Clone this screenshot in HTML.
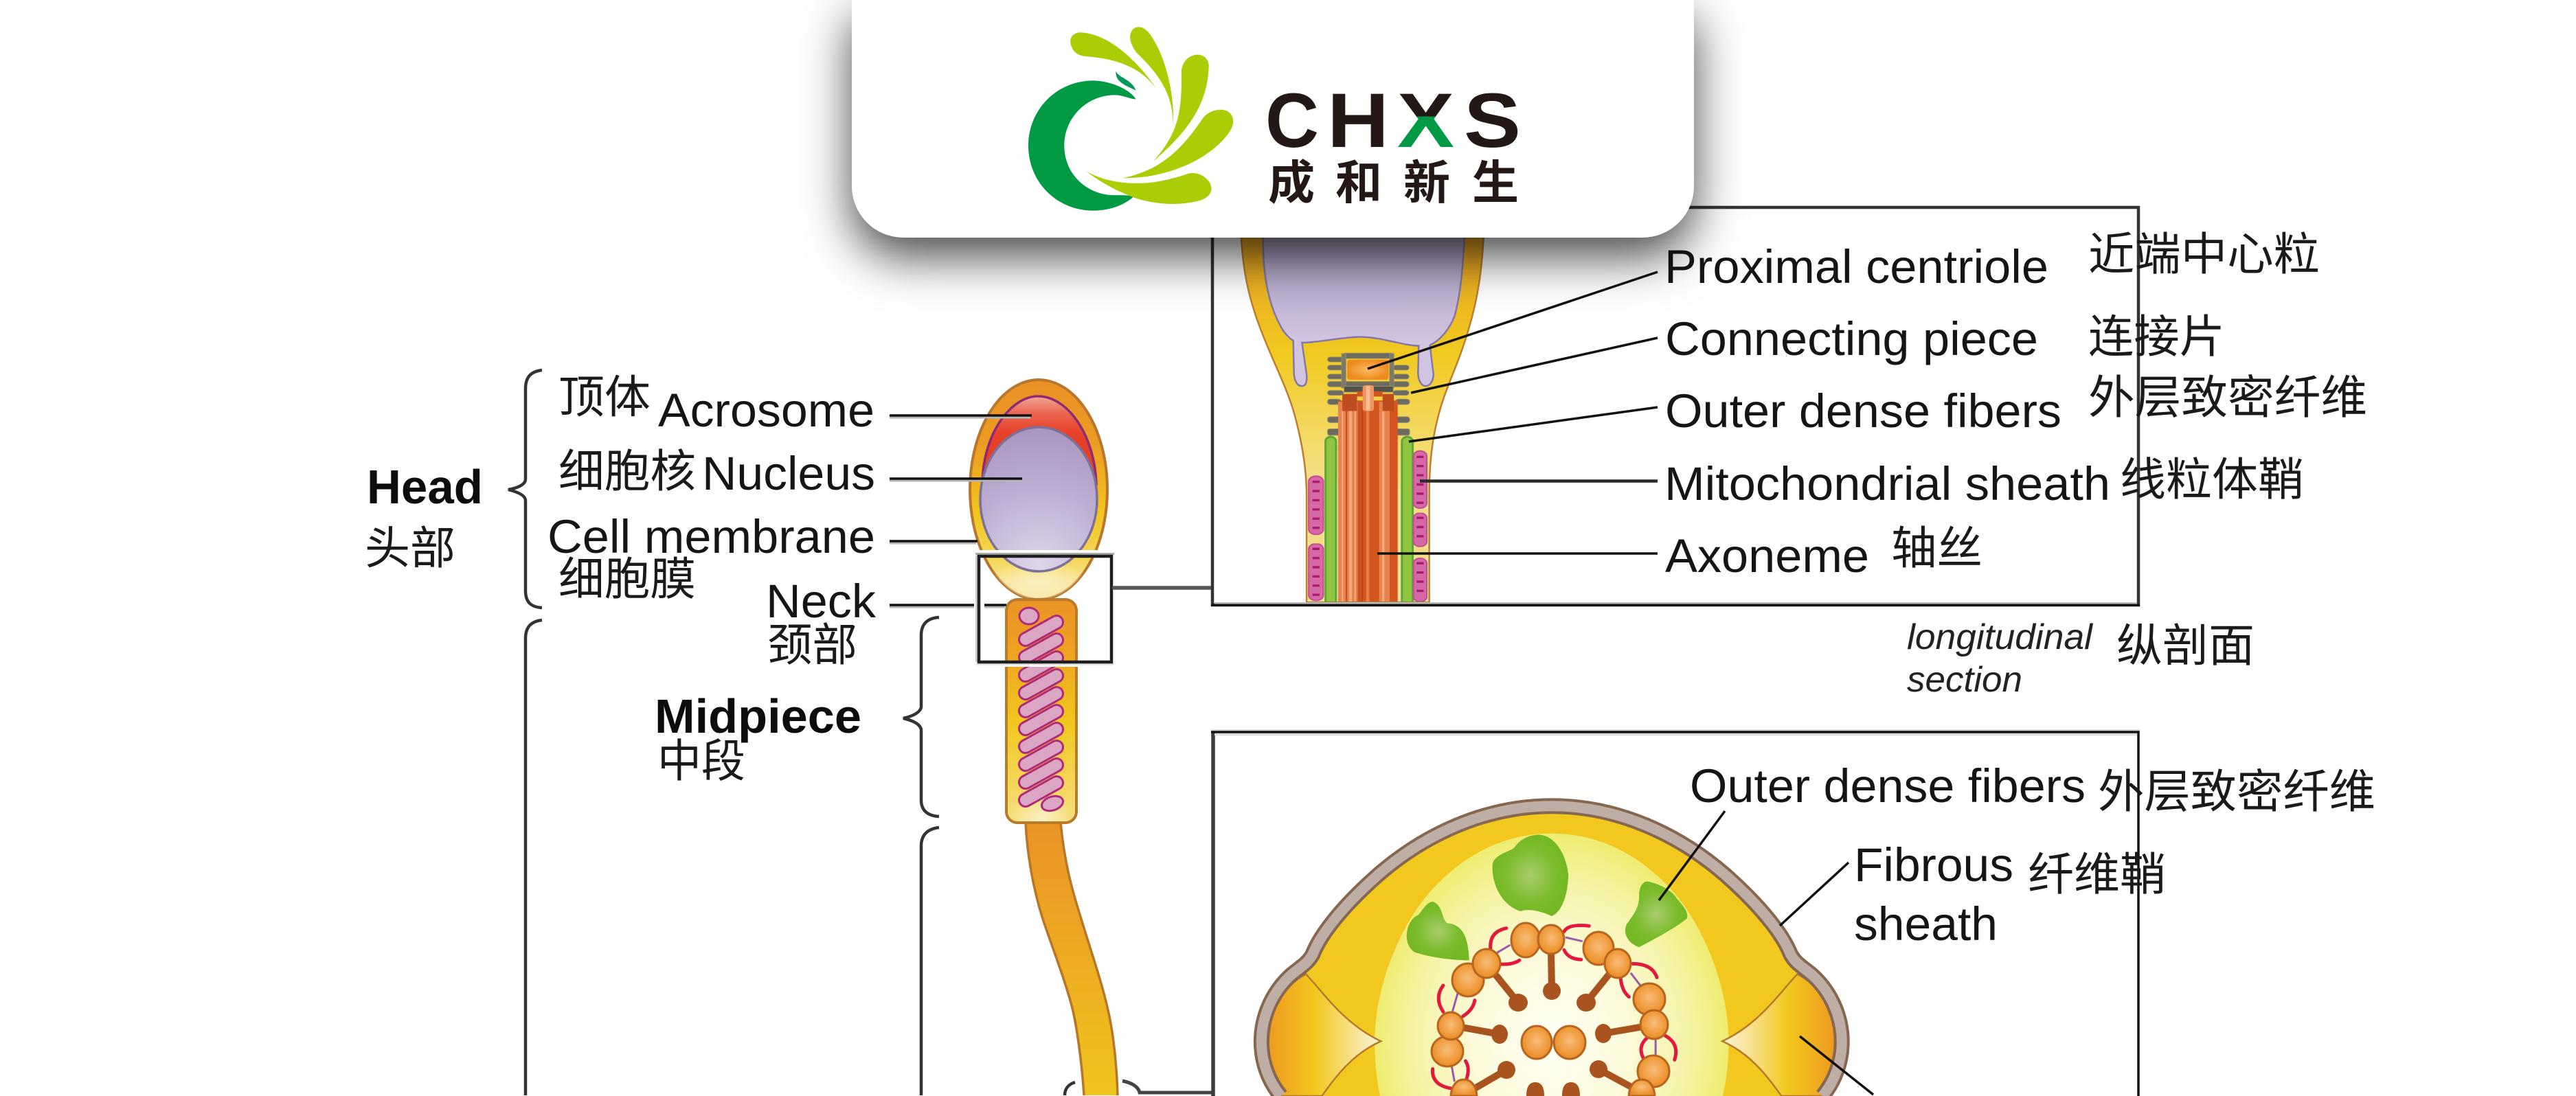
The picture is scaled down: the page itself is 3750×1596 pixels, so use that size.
<!DOCTYPE html>
<html lang="zh">
<head>
<meta charset="utf-8">
<title>CHXS sperm structure</title>
<style>
html,body{margin:0;padding:0;background:#fff;width:3750px;height:1596px;overflow:hidden}
svg{position:absolute;left:0;top:0;display:block}
.e{font-family:"Liberation Sans",sans-serif;fill:#151515}
.b{font-family:"Liberation Sans",sans-serif;font-weight:700;fill:#0c0c0c}
.i{font-family:"Liberation Sans",sans-serif;font-style:italic;fill:#222}
.c{font-family:"Liberation Sans","Noto Sans CJK SC",sans-serif;fill:#1a1a1a}
.card{position:absolute;left:1240px;top:0;width:1226px;height:346px;background:#fff;border-radius:0 0 75px 75px;box-shadow:0 28px 70px rgba(0,0,0,.72)}
.ns{vector-effect:non-scaling-stroke}
</style>
</head>
<body>
<svg width="3750" height="1596" viewBox="0 0 3750 1596" xmlns="http://www.w3.org/2000/svg">
<defs>
<linearGradient id="headG" gradientUnits="userSpaceOnUse" x1="0" y1="553" x2="0" y2="873"><stop offset="0" stop-color="#ea9025"/><stop offset=".3" stop-color="#ec9c22"/><stop offset=".6" stop-color="#f0c41b"/><stop offset=".82" stop-color="#f4d85a"/><stop offset="1" stop-color="#f8e9ad"/></linearGradient>
<radialGradient id="nucG" gradientUnits="userSpaceOnUse" cx="1512" cy="825" r="210"><stop offset="0" stop-color="#ded6ea"/><stop offset=".55" stop-color="#bcadd2"/><stop offset="1" stop-color="#a894bc"/></radialGradient>
<linearGradient id="acrG" gradientUnits="userSpaceOnUse" x1="0" y1="580" x2="0" y2="650"><stop offset="0" stop-color="#f2a090"/><stop offset=".3" stop-color="#ea6650"/><stop offset=".7" stop-color="#e8432c"/><stop offset="1" stop-color="#e63e28"/></linearGradient>
<linearGradient id="midG" gradientUnits="userSpaceOnUse" x1="0" y1="873" x2="0" y2="1198"><stop offset="0" stop-color="#ea9325"/><stop offset=".2" stop-color="#ee9f22"/><stop offset=".55" stop-color="#f1c71d"/><stop offset="1" stop-color="#f6df80"/></linearGradient>
<radialGradient id="midL" gradientUnits="userSpaceOnUse" cx="1516" cy="1195" r="45"><stop offset="0" stop-color="#fbf1c6"/><stop offset="1" stop-color="#fbf1c6" stop-opacity="0"/></radialGradient>
<radialGradient id="headL"><stop offset="0" stop-color="#fbf0c2"/><stop offset="1" stop-color="#fbf0c2" stop-opacity="0"/></radialGradient>
<linearGradient id="tailG" gradientUnits="userSpaceOnUse" x1="0" y1="1198" x2="0" y2="1596"><stop offset="0" stop-color="#ea9325"/><stop offset="1" stop-color="#efc41d"/></linearGradient>
<linearGradient id="neckG" gradientUnits="userSpaceOnUse" x1="0" y1="120" x2="0" y2="1100"><stop offset="0" stop-color="#e8a224"/><stop offset=".45" stop-color="#f1c91f"/><stop offset=".8" stop-color="#f4db6a"/><stop offset="1" stop-color="#f6e298"/></linearGradient>
<linearGradient id="lnucG" gradientUnits="userSpaceOnUse" x1="0" y1="120" x2="0" y2="520"><stop offset="0" stop-color="#a99dc0"/><stop offset="1" stop-color="#d0c4e0"/></linearGradient>
<radialGradient id="centG"><stop offset="0" stop-color="#fbbc62"/><stop offset="1" stop-color="#ee8a20"/></radialGradient>
<radialGradient id="ovalG" gradientUnits="userSpaceOnUse" cx="0" cy="0" r="1" gradientTransform="translate(790 1340) scale(425 870)"><stop offset="0" stop-color="#fffff6"/><stop offset=".45" stop-color="#fcfad8"/><stop offset=".78" stop-color="#f5f3a4"/><stop offset="1" stop-color="#efec70"/></radialGradient>
<linearGradient id="pockG" x1="0" y1="0" x2="1" y2="0"><stop offset="0" stop-color="#ee9a20"/><stop offset=".42" stop-color="#f2c81e"/><stop offset=".82" stop-color="#f8e7a6"/><stop offset="1" stop-color="#fdf5da"/></linearGradient>
<radialGradient id="greenG"><stop offset="0" stop-color="#a8cc6c"/><stop offset=".7" stop-color="#7abb2a"/><stop offset="1" stop-color="#74b824"/></radialGradient>
<radialGradient id="doubG" cx=".5" cy=".45" r=".55"><stop offset="0" stop-color="#f8bd7a"/><stop offset=".8" stop-color="#ee9532"/><stop offset="1" stop-color="#e58a28"/></radialGradient>
<clipPath id="headClip"><ellipse cx="1512" cy="713" rx="100" ry="160"/></clipPath>
</defs>
<rect width="3750" height="1596" fill="#fff"/>

<!-- Brackets -->
<g fill="none" stroke="#333" stroke-width="4.5">
<path d="M789,539 C772,541 765,550 765,566 L765,698 C765,706 752,711 740,713 C752,716 765,721 765,729 L765,860 C765,876 772,884 789,885"/>
<path d="M789,903 C772,905 765,914 765,930 L765,1595"/>
<path d="M1367,899 C1350,900 1341,909 1341,925 L1341,1030 C1339,1038 1328,1043 1315,1046 C1328,1049 1339,1054 1341,1062 L1341,1165 C1341,1180 1350,1188 1367,1189"/>
<path d="M1367,1205 C1350,1207 1341,1216 1341,1232 L1341,1595"/>
<path d="M1565,1576 C1555,1579 1550,1586 1550,1595"/>
<path d="M1634,1574 C1648,1577 1657,1582 1659,1591 L1766,1591" stroke="#444" stroke-width="5"/>
</g>

<!-- Tail -->
<path d="M1493,1198 C1495,1240 1503,1290 1517,1335 C1530,1375 1548,1420 1560,1464 C1568,1495 1575,1550 1578,1595 L1627,1595 C1626,1560 1622,1510 1613,1471 C1604,1430 1588,1385 1573,1335 C1562,1300 1550,1260 1544,1198 Z" fill="url(#tailG)"/>
<path d="M1493,1198 C1495,1240 1503,1290 1517,1335 C1530,1375 1548,1420 1560,1464 C1568,1495 1575,1550 1578,1595" fill="none" stroke="#b5772a" stroke-width="3.5"/>
<path d="M1627,1595 C1626,1560 1622,1510 1613,1471 C1604,1430 1588,1385 1573,1335 C1562,1300 1550,1260 1544,1198" fill="none" stroke="#b5772a" stroke-width="3.5"/>

<!-- Head -->
<ellipse cx="1512" cy="713" rx="100" ry="160" fill="url(#headG)" stroke="#b8772c" stroke-width="4"/>
<ellipse cx="1512" cy="848" rx="85" ry="32" fill="url(#headL)" clip-path="url(#headClip)"/>
<path d="M1430,705 C1430,635 1470,577 1511,577 C1555,577 1594,635 1596,705 Z" fill="url(#acrG)" stroke="#8f2b74" stroke-width="3.5"/>
<ellipse cx="1512" cy="727" rx="85" ry="105" fill="url(#nucG)" stroke="#7d7198" stroke-width="3.5"/>

<!-- Midpiece -->
<rect x="1465" y="873" width="102" height="325" rx="16" fill="url(#midG)" stroke="#b97a2a" stroke-width="4"/>
<rect x="1467" y="1150" width="98" height="46" rx="14" fill="url(#midL)"/>
<g fill="none" stroke-linecap="round">
<path stroke="#b02a78" stroke-width="22" d="M1493,931L1538,906M1493,957L1538,932M1493,983L1538,958M1493,1009L1538,984M1493,1035L1538,1010M1493,1061L1538,1036M1493,1087L1538,1062M1493,1113L1538,1088M1493,1139L1538,1114M1493,1165L1538,1140"/>
<path stroke="#dba5c4" stroke-width="16" d="M1493,931L1538,906M1493,957L1538,932M1493,983L1538,958M1493,1009L1538,984M1493,1035L1538,1010M1493,1061L1538,1036M1493,1087L1538,1062M1493,1113L1538,1088M1493,1139L1538,1114M1493,1165L1538,1140"/>
</g>
<ellipse cx="1498" cy="897" rx="14" ry="12" fill="#dba5c4" stroke="#b02a78" stroke-width="3"/>
<ellipse cx="1532" cy="1170" rx="16" ry="10" fill="#dba5c4" stroke="#b02a78" stroke-width="3" transform="rotate(-18 1532 1170)"/>

<!-- Halo around the neck box -->
<rect x="1425" y="801" width="172" height="5" fill="#fff"/>
<rect x="1462" y="966" width="108" height="5" fill="#fff"/>
<rect x="1420" y="805" width="202" height="3" fill="#aaa"/>
<rect x="1421" y="966" width="200" height="2.5" fill="#ddd"/>
<rect x="1420" y="809" width="3" height="155" fill="#ccc"/>
<rect x="1425" y="810" width="193" height="154" fill="none" stroke="#1e1e1e" stroke-width="4.5"/>
<line x1="1619" y1="856" x2="1766" y2="856" stroke="#555" stroke-width="5.5"/>

<!-- Box 1 -->
<rect x="1765" y="302" width="1348" height="579" fill="#fff" stroke="#333" stroke-width="4.5"/>

<!-- Longitudinal section -->
<g transform="translate(1750 300) scale(.5102 .3827)">
<path class="ns" d="M110,60 L112,130 C118,260 135,360 170,480 C205,600 245,700 265,800 C285,900 298,1000 298,1100 L298,1515 L648,1515 L648,1100 C648,1000 655,900 670,820 C690,700 730,610 760,470 C785,360 800,250 805,60 Z" fill="url(#neckG)" stroke="#bc7f30" stroke-width="2.5"/>
<path class="ns" d="M172,60 L175,200 C180,300 195,390 225,460 C235,485 250,505 260,512 L262,640 C265,675 275,685 285,685 C297,685 300,665 298,640 L285,520 C330,520 400,498 450,498 C510,498 570,530 618,532 L616,640 C618,670 628,685 638,685 C650,685 660,665 660,640 L650,530 C680,510 705,470 720,420 C735,350 745,250 750,60 Z" fill="url(#lnucG)" stroke="#8478a8" stroke-width="2.5"/>
<g fill="#6d6b60" stroke="#8f8a6e" stroke-width="1">
<rect class="ns" x="400" y="560" width="147" height="20" rx="8"/>
<rect class="ns" x="358" y="575" width="45" height="18" rx="8"/>
<rect class="ns" x="358" y="606" width="45" height="18" rx="8"/><rect class="ns" x="545" y="606" width="45" height="18" rx="8"/>
<rect class="ns" x="358" y="640" width="45" height="18" rx="8"/><rect class="ns" x="545" y="640" width="45" height="18" rx="8"/>
<rect class="ns" x="358" y="668" width="232" height="20" rx="8"/>
<rect class="ns" x="358" y="702" width="45" height="18" rx="8"/><rect class="ns" x="545" y="702" width="45" height="18" rx="8"/>
<rect class="ns" x="358" y="735" width="38" height="20" rx="8"/><rect class="ns" x="552" y="735" width="40" height="20" rx="8"/>
<rect class="ns" x="358" y="802" width="38" height="22" rx="8"/><rect class="ns" x="552" y="802" width="40" height="22" rx="8"/>
<rect class="ns" x="358" y="848" width="38" height="24" rx="6"/><rect class="ns" x="552" y="848" width="40" height="24" rx="6"/>
<rect class="ns" x="398" y="562" width="12" height="130" fill="#7a7866"/><rect class="ns" x="535" y="562" width="12" height="130" fill="#7a7866"/>
<rect class="ns" x="405" y="686" width="140" height="22" fill="#55534a"/>
</g>
<rect x="414" y="585" width="118" height="76" rx="8" fill="url(#centG)"/>
<rect x="388" y="740" width="170" height="775" fill="#d4561f"/>
<rect x="388" y="745" width="24" height="770" fill="#e88350"/>
<rect x="412" y="745" width="32" height="770" fill="#e67c46"/>
<rect x="505" y="745" width="30" height="770" fill="#e88350"/>
<rect x="398" y="780" width="5" height="735" fill="#f4a678"/>
<rect x="419" y="780" width="9" height="735" fill="#f4a678"/>
<rect x="434" y="780" width="5" height="735" fill="#f4a678"/>
<rect x="513" y="780" width="7" height="735" fill="#f4a678"/>
<rect x="468" y="780" width="9" height="735" fill="#e67c46"/>
<rect x="410" y="745" width="3" height="770" fill="#b8431a"/>
<rect x="456" y="745" width="3" height="770" fill="#b8431a"/>
<rect x="444" y="745" width="12" height="770" fill="#cc5120"/>
<rect x="400" y="715" width="42" height="65" fill="#bf4c1f"/>
<rect x="515" y="715" width="32" height="65" fill="#bf4c1f"/>
<rect x="442" y="705" width="73" height="20" fill="#cf5420"/>
<rect x="458" y="682" width="32" height="98" rx="8" fill="#ef9560"/>
<rect x="468" y="686" width="11" height="92" fill="#f7bd94"/>
<g fill="#90c63f" stroke="#5ba83a" stroke-width="3">
<path class="ns" d="M352,1515 L352,895 C352,885 360,878 366,878 C374,878 382,885 382,895 L382,1515 Z"/>
<path class="ns" d="M570,1515 L570,895 C570,885 578,878 585,878 C592,878 601,885 601,895 L601,1515 Z"/>
</g>
<g fill="#d768a6" stroke="#c34d90" stroke-width="2">
<rect class="ns" x="304" y="1028" width="42" height="222" rx="20"/>
<rect class="ns" x="304" y="1285" width="42" height="216" rx="20"/>
<rect class="ns" x="603" y="932" width="38" height="218" rx="19"/>
<rect class="ns" x="603" y="1168" width="38" height="128" rx="19"/>
<rect class="ns" x="603" y="1340" width="38" height="166" rx="19"/>
</g>
<g stroke="#a81c6e" stroke-width="20" fill="none" stroke-dasharray="9 26">
<line x1="325" y1="1045" x2="325" y2="1240"/><line x1="325" y1="1300" x2="325" y2="1490"/>
<line x1="622" y1="950" x2="622" y2="1140"/><line x1="622" y1="1182" x2="622" y2="1285"/><line x1="622" y1="1355" x2="622" y2="1495"/>
</g>
<g fill="#f2dc84"><rect x="305" y="1252" width="40" height="32"/><rect x="604" y="1152" width="38" height="15"/><rect x="604" y="1298" width="38" height="40"/></g>
<rect x="298" y="1505" width="352" height="12" fill="#a5823c"/>
</g>
<rect x="1768" y="877" width="1343" height="3" fill="#bbb"/>
<rect x="1763" y="879.500" width="1352" height="3.500" fill="#111"/>

<!-- Box 2 -->
<rect x="1763" y="1062" width="1352" height="10" fill="#d8d8d8"/>
<rect x="1766" y="1066" width="1347" height="530" fill="#fff"/>
<path d="M1766,1596 L1766,1066" fill="none" stroke="#3c3c3c" stroke-width="5.5"/>
<path d="M1763,1066 L3113,1066 L3113,1596" fill="none" stroke="#111" stroke-width="3.500"/>
<rect x="1768" y="1068" width="1343" height="3" fill="#ddd"/>

<!-- Cross section -->
<g transform="translate(1780 1050) scale(.60606 .34843)">
<path fill="#f2c81e" d="M139.5,1567 C108.8,1502.6 93,1421.9 93,1340 C93,1235 119,1132 165,1060 C190,1025 205,1010 216,975 C235,890 290,770 375,640 C485,475 630,355 790,355 C950,355 1095,475 1205,640 C1290,770 1345,890 1364,975 C1375,1010 1390,1025 1415,1060 C1461,1132 1487,1235 1487,1340 C1487,1421.9 1471.2,1502.6 1440.5,1567 Z"/>
<path d="M790,470 C905,470 1000,560 1075,700 C1150,840 1215,1100 1215,1340 C1215,1430 1210,1500 1201,1567 L378,1567 C370,1500 365,1430 365,1340 C365,1100 430,840 505,700 C580,560 675,470 790,470 Z" fill="url(#ovalG)"/>
<path class="ns" d="M200,1058 C240,1130 290,1265 380,1338 C310,1392 270,1490 238,1567 L128,1567 C118,1500 110,1420 110,1340 C110,1230 140,1110 200,1058 Z" fill="url(#pockG)" stroke="#b57a2c" stroke-width="2.5"/>
<g transform="translate(1580 0) scale(-1 1)"><path class="ns" d="M200,1058 C240,1130 290,1265 380,1338 C310,1392 270,1490 238,1567 L128,1567 C118,1500 110,1420 110,1340 C110,1230 140,1110 200,1058 Z" fill="url(#pockG)" stroke="#b57a2c" stroke-width="2.5"/></g>
<path class="ns" fill="none" stroke="#86674f" stroke-width="23" d="M139.5,1567 C108.8,1502.6 93,1421.9 93,1340 C93,1235 119,1132 165,1060 C190,1025 205,1010 216,975 C235,890 290,770 375,640 C485,475 630,355 790,355 C950,355 1095,475 1205,640 C1290,770 1345,890 1364,975 C1375,1010 1390,1025 1415,1060 C1461,1132 1487,1235 1487,1340 C1487,1421.9 1471.2,1502.6 1440.5,1567"/>
<path class="ns" fill="none" stroke="#bfaea6" stroke-width="15" d="M139.5,1567 C108.8,1502.6 93,1421.9 93,1340 C93,1235 119,1132 165,1060 C190,1025 205,1010 216,975 C235,890 290,770 375,640 C485,475 630,355 790,355 C950,355 1095,475 1205,640 C1290,770 1345,890 1364,975 C1375,1010 1390,1025 1415,1060 C1461,1132 1487,1235 1487,1340 C1487,1421.9 1471.2,1502.6 1440.5,1567"/>
<path d="M760,475 C800,480 825,560 830,640 C830,720 815,800 790,815 C770,800 740,780 715,795 C670,770 645,680 648,600 C650,560 690,545 700,530 C715,490 740,475 760,475Z" fill="url(#greenG)"/>
<path d="M505,755 C530,770 525,830 540,845 C575,850 590,900 592,1000 C550,1000 490,985 460,965 C430,930 440,830 470,810 C480,790 490,755 505,755Z" fill="url(#greenG)"/>
<path d="M1020,670 C1050,680 1080,710 1090,740 C1105,770 1120,800 1115,825 C1090,860 1050,900 1000,945 C975,930 960,890 970,850 C990,800 1000,780 1000,730 C1000,690 1010,670 1020,670Z" fill="url(#greenG)"/>
</g>

<!-- Axoneme cross-section -->
<g stroke="#a9541f" stroke-width="10" fill="none">
<line x1="2258" y1="1385" x2="2259" y2="1442"/>
<line x1="2176" y1="1418" x2="2210" y2="1460"/>
<line x1="2343" y1="1418" x2="2309" y2="1460"/>
<line x1="2128" y1="1496" x2="2183" y2="1506"/>
<line x1="2392" y1="1495" x2="2334" y2="1505"/>
<line x1="2145" y1="1586" x2="2193" y2="1558"/>
<line x1="2375" y1="1583" x2="2327" y2="1557"/>
</g>
<g fill="#a9541f">
<ellipse cx="2259" cy="1443" rx="13" ry="13"/>
<ellipse cx="2210" cy="1460" rx="14" ry="13"/>
<ellipse cx="2309" cy="1460" rx="14" ry="13"/>
<ellipse cx="2183" cy="1506" rx="12" ry="14"/>
<ellipse cx="2334" cy="1505" rx="12" ry="14"/>
<ellipse cx="2193" cy="1558" rx="13" ry="13"/>
<ellipse cx="2327" cy="1557" rx="13" ry="13"/>
<path d="M2222,1596 C2222,1580 2228,1576 2235,1576 C2242,1576 2248,1580 2248,1596 Z"/>
<path d="M2274,1596 C2274,1580 2280,1576 2287,1576 C2294,1576 2300,1580 2300,1596 Z"/>
</g>
<g transform="translate(1900 1250) scale(.3827 .3333)" fill="none">
<g stroke="#e2183c" stroke-width="5" stroke-linecap="round">
<path class="ns" d="M765,305 Q700,320 705,395"/><path class="ns" d="M815,445 Q790,465 745,462"/>
<path class="ns" d="M985,320 Q1000,285 1080,295"/><path class="ns" d="M985,400 Q1000,440 1050,442"/>
<path class="ns" d="M1245,460 Q1320,460 1338,520"/><path class="ns" d="M1200,525 Q1205,580 1232,605"/>
<path class="ns" d="M525,555 Q490,610 525,670"/><path class="ns" d="M645,620 Q640,660 600,690"/>
<path class="ns" d="M1300,785 Q1265,820 1285,870"/><path class="ns" d="M1370,775 Q1425,810 1405,880"/>
<path class="ns" d="M485,920 Q480,990 555,1005"/><path class="ns" d="M610,885 Q630,920 610,975"/>
</g>
<g stroke="#9a5aa8" stroke-width="3">
<path class="ns" d="M780,378 L730,412"/><path class="ns" d="M990,345 L1055,362"/>
<path class="ns" d="M1238,500 L1275,555"/><path class="ns" d="M580,590 L560,670"/>
<path class="ns" d="M1333,790 L1333,865"/><path class="ns" d="M557,905 L568,975"/>
</g>
</g>
<g fill="url(#doubG)" stroke="#b8651f" stroke-width="3">
<ellipse cx="2137" cy="1427" rx="23" ry="24"/><ellipse cx="2164" cy="1403" rx="20" ry="21"/>
<ellipse cx="2221" cy="1369" rx="21" ry="25"/><ellipse cx="2258" cy="1368" rx="19" ry="21"/>
<ellipse cx="2327" cy="1381" rx="22" ry="24"/><ellipse cx="2355" cy="1403" rx="19" ry="21"/>
<ellipse cx="2401" cy="1455" rx="23" ry="23"/><ellipse cx="2408" cy="1492" rx="20" ry="21"/>
<ellipse cx="2407" cy="1560" rx="23" ry="23"/>
<path d="M2371,1596 C2372,1580 2380,1572 2390,1572 C2400,1572 2408,1580 2409,1596 Z"/>
<ellipse cx="2107" cy="1531" rx="23" ry="22"/><ellipse cx="2112" cy="1494" rx="19" ry="20"/>
<path d="M2112,1596 C2113,1580 2121,1572 2131,1572 C2141,1572 2149,1580 2150,1596 Z"/>
<ellipse cx="2237" cy="1518" rx="22" ry="24"/><ellipse cx="2285" cy="1518" rx="23" ry="24"/>
</g>

<!-- Leader lines -->
<g stroke="#111" fill="none">
<g stroke="#b5b5b5" stroke-width="3">
<line x1="1295" y1="608" x2="1500" y2="608"/><line x1="1295" y1="700" x2="1486" y2="700"/><line x1="1295" y1="791" x2="1421" y2="791"/><line x1="1295" y1="884" x2="1418" y2="884"/><line x1="1433" y1="884" x2="1463" y2="884"/>
</g>
<g stroke-width="3.500">
<line x1="1295" y1="605" x2="1502" y2="605"/><line x1="1295" y1="697" x2="1488" y2="697"/><line x1="1295" y1="788" x2="1423" y2="788"/><line x1="1295" y1="881" x2="1418" y2="881"/><line x1="1433" y1="881" x2="1465" y2="881"/>
<line x1="2413" y1="396" x2="1991" y2="537"/>
<line x1="2413" y1="492" x2="2054" y2="572"/>
<line x1="2413" y1="593" x2="2051" y2="643"/>
<line x1="2413" y1="700.500" x2="2067" y2="700.500" stroke="#2a2a2a" stroke-width="4.500"/>
<line x1="2413" y1="806" x2="2005" y2="806"/>
<line x1="2511" y1="1181" x2="2415" y2="1311"/>
<line x1="2691" y1="1256" x2="2591" y2="1348"/>
<line x1="2620" y1="1509" x2="2727" y2="1594"/>
</g>
</g>

<!-- Labels -->
<g>
<text class="b" x="534" y="733" font-size="70" textLength="169" lengthAdjust="spacingAndGlyphs">Head</text>
<text class="c" x="531" y="821" font-size="66" textLength="132" lengthAdjust="spacingAndGlyphs">头部</text>
<text class="c" x="813" y="601" font-size="66" textLength="134" lengthAdjust="spacingAndGlyphs">顶体</text>
<text class="e" x="958" y="621" font-size="69" textLength="315" lengthAdjust="spacingAndGlyphs">Acrosome</text>
<text class="c" x="813" y="709" font-size="66" textLength="200" lengthAdjust="spacingAndGlyphs">细胞核</text>
<text class="e" x="1022" y="713" font-size="69" textLength="252" lengthAdjust="spacingAndGlyphs">Nucleus</text>
<text class="e" x="797" y="805" font-size="69" textLength="477" lengthAdjust="spacingAndGlyphs">Cell membrane</text>
<text class="c" x="813" y="866" font-size="66" textLength="200" lengthAdjust="spacingAndGlyphs">细胞膜</text>
<text class="e" x="1115" y="899" font-size="69" textLength="160" lengthAdjust="spacingAndGlyphs">Neck</text>
<text class="c" x="1117" y="962" font-size="66" textLength="131" lengthAdjust="spacingAndGlyphs">颈部</text>
<text class="b" x="953" y="1067" font-size="70" textLength="301" lengthAdjust="spacingAndGlyphs">Midpiece</text>
<text class="c" x="957" y="1131" font-size="66" textLength="128" lengthAdjust="spacingAndGlyphs">中段</text>

<text class="e" x="2423" y="412" font-size="69" textLength="559" lengthAdjust="spacingAndGlyphs">Proximal centriole</text>
<text class="c" x="3040" y="393" font-size="66" textLength="337" lengthAdjust="spacingAndGlyphs">近端中心粒</text>
<text class="e" x="2424" y="517" font-size="69" textLength="543" lengthAdjust="spacingAndGlyphs">Connecting piece</text>
<text class="c" x="3040" y="513" font-size="66" textLength="199" lengthAdjust="spacingAndGlyphs">连接片</text>
<text class="e" x="2424" y="622" font-size="69" textLength="577" lengthAdjust="spacingAndGlyphs">Outer dense fibers</text>
<text class="c" x="3040" y="602" font-size="67" textLength="406" lengthAdjust="spacingAndGlyphs">外层致密纤维</text>
<text class="e" x="2423" y="728" font-size="69" textLength="649" lengthAdjust="spacingAndGlyphs">Mitochondrial sheath</text>
<text class="c" x="3086" y="721" font-size="66" textLength="268" lengthAdjust="spacingAndGlyphs">线粒体鞘</text>
<text class="e" x="2424" y="833" font-size="69" textLength="297" lengthAdjust="spacingAndGlyphs">Axoneme</text>
<text class="c" x="2753" y="821" font-size="66" textLength="133" lengthAdjust="spacingAndGlyphs">轴丝</text>
<text class="i" x="2776" y="945" font-size="52" textLength="270" lengthAdjust="spacingAndGlyphs">longitudinal</text>
<text class="i" x="2776" y="1007" font-size="52" textLength="168" lengthAdjust="spacingAndGlyphs">section</text>
<text class="c" x="3081" y="963" font-size="66" textLength="201" lengthAdjust="spacingAndGlyphs">纵剖面</text>

<text class="e" x="2460" y="1168" font-size="69" textLength="576" lengthAdjust="spacingAndGlyphs">Outer dense fibers</text>
<text class="c" x="3054" y="1176" font-size="67" textLength="404" lengthAdjust="spacingAndGlyphs">外层致密纤维</text>
<text class="e" x="2699" y="1283" font-size="69" textLength="232" lengthAdjust="spacingAndGlyphs">Fibrous</text>
<text class="c" x="2952" y="1296" font-size="66" textLength="201" lengthAdjust="spacingAndGlyphs">纤维鞘</text>
<text class="e" x="2699" y="1369" font-size="69" textLength="209" lengthAdjust="spacingAndGlyphs">sheath</text>
</g>
</svg>

<div class="card"></div>

<svg width="3750" height="1596" viewBox="0 0 3750 1596" xmlns="http://www.w3.org/2000/svg">
<defs>
<linearGradient id="xG" gradientUnits="userSpaceOnUse" x1="0" y1="137" x2="0" y2="214"><stop offset=".42" stop-color="#231815"/><stop offset=".42" stop-color="#009944"/></linearGradient>
</defs>
<g transform="translate(1480 30) scale(.4847 .3333)">
<path fill="#009944" d="M358,343 C340,300 280,262 230,262 C120,262 35,390 35,546 C35,705 120,830 230,830 C280,830 325,805 352,768 C335,762 310,763 295,763 C210,763 143,670 143,546 C143,425 210,325 295,325 C320,325 345,345 358,343 Z"/>
<path fill="#009a5b" d="M298,220 C305,250 345,255 358,305 C330,285 295,270 298,220 Z"/>
<g fill="#aacd03">
<path d="M422,303 C380,210 290,60 195,52 C165,50 155,85 165,115 C172,140 185,152 205,156 C290,165 370,195 422,303 Z"/>
<path d="M470,458 C475,300 440,130 395,50 C380,25 360,20 348,40 C335,65 340,100 360,140 C420,225 470,310 470,458 Z"/>
<path d="M410,615 C510,490 575,370 577,195 C575,160 555,145 535,150 C510,158 495,190 495,225 C495,370 495,480 410,615 Z"/>
<path d="M318,688 C450,650 510,530 560,425 C575,395 610,380 632,395 C655,415 655,450 640,485 C580,610 450,690 318,688 Z"/>
<path d="M208,657 C270,710 340,715 400,708 C450,700 490,680 520,667 C555,660 585,700 585,735 C583,770 560,785 530,793 C470,810 390,800 330,760 C290,735 245,700 208,657 Z"/>
</g>
</g>
<g font-family="'Liberation Sans',sans-serif" font-weight="700" font-size="112" fill="#231815">
<text x="1842" y="214" textLength="78" lengthAdjust="spacingAndGlyphs">C</text>
<text x="1932" y="214" textLength="90" lengthAdjust="spacingAndGlyphs">H</text>
<text x="2034" y="214" textLength="83" lengthAdjust="spacingAndGlyphs" fill="url(#xG)">X</text>
<text x="2131" y="214" textLength="83" lengthAdjust="spacingAndGlyphs">S</text>
</g>
<g font-family="'Liberation Sans','Noto Sans CJK SC',sans-serif" font-weight="700" font-size="68" fill="#231815">
<text x="1846" y="290">成</text>
<text x="1944" y="290">和</text>
<text x="2043" y="290">新</text>
<text x="2143" y="290">生</text>
</g>
</svg>
</body>
</html>
